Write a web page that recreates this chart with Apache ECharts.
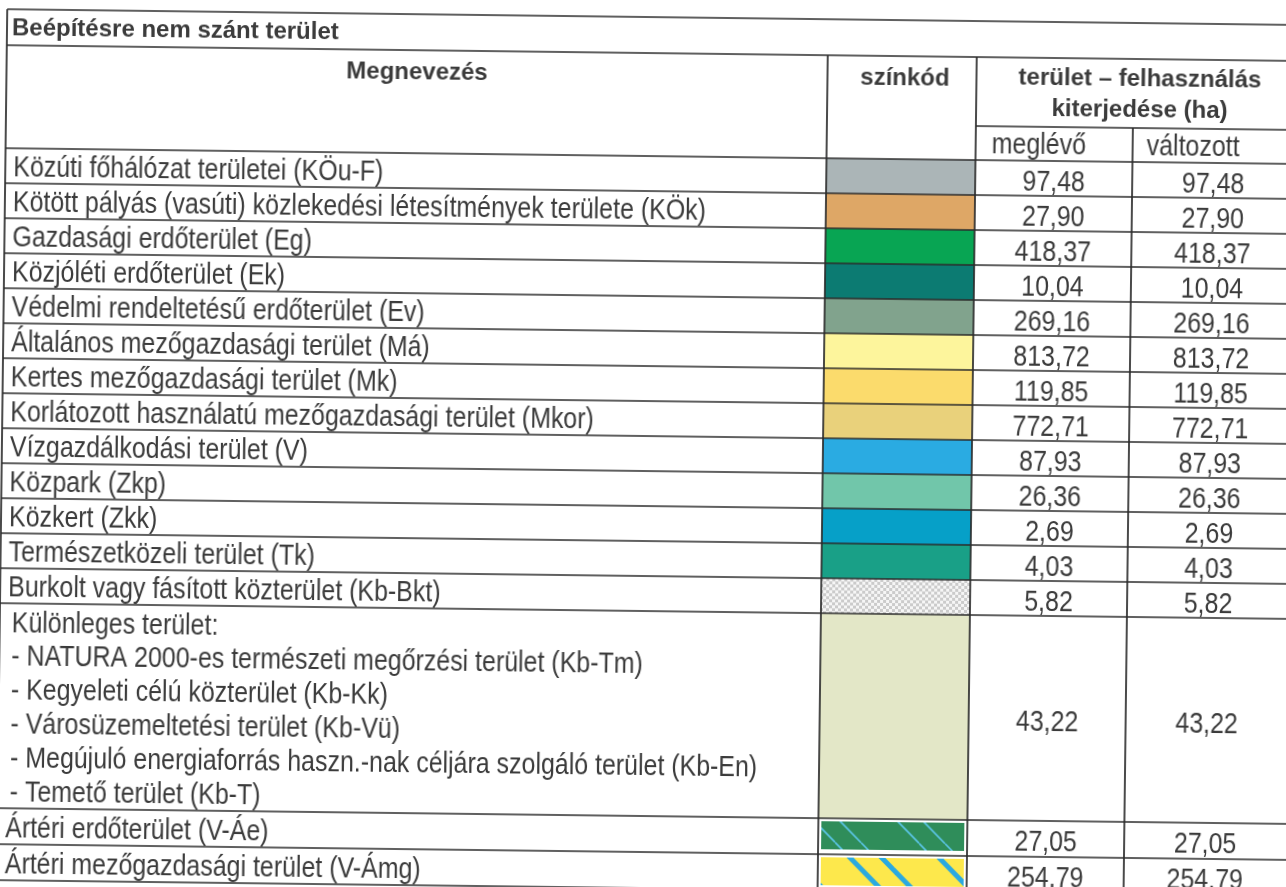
<!DOCTYPE html>
<html><head><meta charset="utf-8">
<script src="https://cdn.jsdelivr.net/npm/echarts@6/dist/echarts.min.js"></script>
<style>
html,body{margin:0;padding:0;background:#fff;overflow:hidden;width:1286px;height:887px}
#chart{width:1320px;height:910px;transform:rotate(0.7deg);transform-origin:643px 443px;}
</style></head><body><div id="chart"></div>
<script>
// ---------- data ----------
const tableTitle = 'Beépítésre nem szánt terület';
const headerLabels = ['Megnevezés', 'színkód', 'terület – felhasználás', 'kiterjedése (ha)', 'meglévő', 'változott'];
const categories = [
  'Közúti főhálózat területei (KÖu-F)',
  'Kötött pályás (vasúti) közlekedési létesítmények területe (KÖk)',
  'Gazdasági erdőterület (Eg)',
  'Közjóléti erdőterület (Ek)',
  'Védelmi rendeltetésű erdőterület (Ev)',
  'Általános mezőgazdasági terület (Má)',
  'Kertes mezőgazdasági terület (Mk)',
  'Korlátozott használatú mezőgazdasági terület (Mkor)',
  'Vízgazdálkodási terület (V)',
  'Közpark (Zkp)',
  'Közkert (Zkk)',
  'Természetközeli terület (Tk)',
  'Burkolt vagy fásított közterület (Kb-Bkt)',
  'Különleges terület:\n- NATURA 2000-es természeti megőrzési terület (Kb-Tm)\n- Kegyeleti célú közterület (Kb-Kk)\n- Városüzemeltetési terület (Kb-Vü)\n- Megújuló energiaforrás haszn.-nak céljára szolgáló terület (Kb-En)\n- Temető terület (Kb-T)',
  'Ártéri erdőterület (V-Áe)',
  'Ártéri mezőgazdasági terület (V-Ámg)'
];
const swatchColors = ['#abb5b7', '#dea766', '#08a553', '#0c7b72', '#81a38d', '#fdf59c', '#fbdb6c', '#e9d17b',
  '#2aabe2', '#71c6aa', '#06a0c8', '#19a087', '#f2f2f2', '#e3e7c7', '#2f8d5a', '#fde84c'];
const swatchHatch = [null, null, null, null, null, null, null, null, null, null, null, null, 'dots', null, 'thin', 'thick'];
const meglevo = [97.48, 27.90, 418.37, 10.04, 269.16, 813.72, 119.85, 772.71, 87.93, 26.36, 2.69, 4.03, 5.82, 43.22, 27.05, 254.79];
const valtozott = [97.48, 27.90, 418.37, 10.04, 269.16, 813.72, 119.85, 772.71, 87.93, 26.36, 2.69, 4.03, 5.82, 43.22, 27.05, 254.79];

// ---------- layout (table units = px before skew) ----------
const VIEW_W = 1320, VIEW_H = 910;
const COLS = [2, 823, 972, 1129, 1291, 1320];
const TITLE_TOP = 17, TITLE_BOTTOM = 53, SUB_TOP = 122, HEAD_BOTTOM = 156;
const rowHeights = [35, 35, 35, 35, 35, 35, 35, 35, 35, 35, 35, 35, 35, 205, 36, 36];
const rowTops = [];
rowHeights.reduce((acc, h) => { rowTops.push(acc); return acc + h; }, HEAD_BOTTOM);

const textColor = '#3b3b3b';
const lineColor = '#2b2b2b';
const bodyFont = "29px 'Liberation Sans', Arial, sans-serif";
const NARROW = 0.86;   // Arial Narrow look
const boldFont = "bold 24px 'Liberation Sans', Arial, sans-serif";
const fmt = v => v.toFixed(2).replace('.', ',');

function makeTile(kind, base) {
  const c = document.createElement('canvas');
  const ctx = c.getContext('2d');
  if (kind === 'dots') {
    c.width = 6; c.height = 6;
    ctx.fillStyle = '#f6f6f6'; ctx.fillRect(0, 0, 6, 6);
    ctx.fillStyle = '#cbcbcb'; ctx.fillRect(0, 0, 3, 3); ctx.fillRect(3, 3, 3, 3);
    return c;
  }
  const T = kind === 'thin' ? 84 : 90;
  c.width = T; c.height = T;
  ctx.fillStyle = base; ctx.fillRect(0, 0, T, T);
  ctx.strokeStyle = kind === 'thin' ? '#5cc6ea' : '#2aa9e0';
  ctx.lineWidth = kind === 'thin' ? 1.6 : 5;
  const offs = kind === 'thin' ? [0, 26] : [0, 32];
  offs.forEach(o => {
    [-T, 0, T].forEach(s => {
      ctx.beginPath(); ctx.moveTo(o + s, 0); ctx.lineTo(o + s + T, T); ctx.stroke();
    });
  });
  return c;
}
function fillFor(i) {
  const h = swatchHatch[i];
  if (!h) return swatchColors[i];
  return { image: makeTile(h, swatchColors[i]), repeat: 'repeat' };
}

function hLine(api, x0, x1, y) {
  const a = api.coord([x0, y]), b = api.coord([x1, y]);
  return { type: 'line', shape: { x1: a[0], y1: a[1], x2: b[0], y2: b[1] }, style: { stroke: lineColor, lineWidth: 1.7 } };
}
function vLine(api, x, y0, y1) {
  const a = api.coord([x, y0]), b = api.coord([x, y1]);
  return { type: 'line', shape: { x1: a[0], y1: a[1], x2: b[0], y2: b[1] }, style: { stroke: lineColor, lineWidth: 1.7 } };
}
function txt(api, x, y, text, font, align, sx) {
  const p = api.coord([x, y]);
  return {
    type: 'text', x: p[0], y: p[1], scaleX: sx || 1,
    style: { x: 0, y: 0, text: text, font: font, fill: textColor, align: align, verticalAlign: 'middle', lineHeight: 33.8 }
  };
}

function renderRow(params, api) {
  const i = api.value(0);
  const top = rowTops[i], h = rowHeights[i];
  const mid = top + h / 2;
  const s0 = api.coord([COLS[1], top]), s1 = api.coord([COLS[2], top + h]);
  let sx = s0[0], sy = s0[1], sw = s1[0] - s0[0], sh = s1[1] - s0[1];
  if (swatchHatch[i] === 'thin' || swatchHatch[i] === 'thick') { sx += 3; sw -= 6; sy += 3; sh -= 8; }
  const nameX = categories[i].indexOf('\n') >= 0 ? COLS[0] + 12 : COLS[0] + 8;
  return {
    type: 'group',
    children: [
      { type: 'rect', shape: { x: sx, y: sy, width: sw, height: sh }, style: { fill: fillFor(i) } },
      txt(api, nameX, mid + 2.5, categories[i], bodyFont, 'left', NARROW),
      txt(api, (COLS[2] + COLS[3]) / 2, mid + 4, fmt(api.value(1)), bodyFont, 'center', NARROW),
      txt(api, (COLS[3] + COLS[4]) / 2, mid + 4, fmt(api.value(2)), bodyFont, 'center', NARROW)
    ]
  };
}

function renderHeader(params, api) {
  return {
    type: 'group',
    children: [
      txt(api, COLS[0] + 5, (TITLE_TOP + TITLE_BOTTOM) / 2 + 1, tableTitle, boldFont, 'left'),
      txt(api, (COLS[0] + COLS[1]) / 2, 75, headerLabels[0], boldFont, 'center'),
      txt(api, (COLS[1] + COLS[2]) / 2 + 3, 75, headerLabels[1], boldFont, 'center'),
      txt(api, (COLS[2] + COLS[4]) / 2 + 4, 73, headerLabels[2], boldFont, 'center'),
      txt(api, (COLS[2] + COLS[4]) / 2 + 4, 104, headerLabels[3], boldFont, 'center'),
      txt(api, COLS[2] + 16, 141, headerLabels[4], bodyFont, 'left', NARROW),
      txt(api, COLS[3] + 14, 141, headerLabels[5], bodyFont, 'left', NARROW)
    ]
  };
}

function renderLines(params, api) {
  const bottom = rowTops[rowTops.length - 1] + rowHeights[rowHeights.length - 1];
  const R = COLS[COLS.length - 1];
  const ch = [
    hLine(api, COLS[0], R, TITLE_TOP),
    hLine(api, COLS[0], R, TITLE_BOTTOM),
    hLine(api, COLS[2], R, SUB_TOP),
    hLine(api, COLS[0], R, HEAD_BOTTOM),
    vLine(api, COLS[0], TITLE_TOP, bottom),
    vLine(api, COLS[1], TITLE_BOTTOM, bottom),
    vLine(api, COLS[2], TITLE_BOTTOM, bottom),
    vLine(api, COLS[3], SUB_TOP, bottom)
  ];
  rowTops.forEach((t, i) => ch.push(hLine(api, COLS[0], R, t + rowHeights[i])));
  return { type: 'group', children: ch };
}

const chart = echarts.init(document.getElementById('chart'), null, { renderer: 'canvas' });
chart.setOption({
  animation: false,
  backgroundColor: '#ffffff',
  grid: { left: 0, right: 0, top: 0, bottom: 0 },
  xAxis: { type: 'value', min: 0, max: VIEW_W, show: false },
  yAxis: { type: 'value', min: 0, max: VIEW_H, inverse: true, show: false },
  series: [
    { type: 'custom', name: 'rows', renderItem: renderRow, z: 2,
      data: categories.map((c, i) => [i, meglevo[i], valtozott[i]]) },
    { type: 'custom', name: 'header', renderItem: renderHeader, z: 2, data: [[0]] },
    { type: 'custom', name: 'lines', renderItem: renderLines, z: 3, data: [[0]] }
  ]
});
</script></body></html>
